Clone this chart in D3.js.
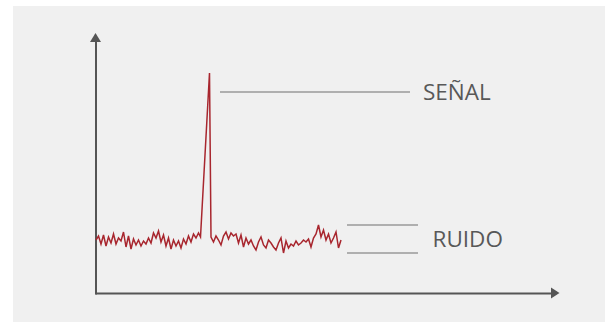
<!DOCTYPE html>
<html>
<head>
<meta charset="utf-8">
<script src="https://cdn.jsdelivr.net/npm/d3@7"></script>
<style>
  html, body { margin: 0; padding: 0; background: #ffffff; }
  svg { display: block; }
</style>
</head>
<body>
<svg id="chart" width="605" height="322"></svg>
<script>
// ---- data ----
const sampleStep = 2.5;
const noiseBeforeStart = 0;
const noiseBefore = [53, 57, 49, 58, 47, 56, 50, 59, 49, 55, 52, 61, 46, 57, 44, 54, 48, 53, 47, 52,
                     49, 55, 50, 60, 55, 62, 51, 58, 47, 55, 44, 53, 47, 52, 45, 54, 49, 57, 51, 59,
                     55, 60];
const spikeTimes = [104.5, 113.5];
const spikeValues = [56, 220];
const noiseAfterStart = 115;
const noiseAfter = [56, 51, 57, 53, 48, 57, 61, 54, 60, 57, 59, 50, 58, 46, 55, 49, 53, 47, 43, 51,
                    56, 48, 45, 53, 50, 46, 43, 50, 55, 40, 52, 45, 49, 47, 52, 48, 50, 53, 51, 54,
                    46, 55, 59, 68, 56, 63, 53, 59, 50, 55, 61, 45, 53];
const labels = ["SEÑAL", "RUIDO"];
const signalLineLevel = 201;
const signalLineSpan = [124, 314];
const noiseLineSpan = [251, 322];
const labelTimes = [327, 336.5];

// ---- build series ----
const series = [];
noiseBefore.forEach((v, i) => series.push({ t: noiseBeforeStart + i * sampleStep, v }));
spikeTimes.forEach((t, i) => series.push({ t, v: spikeValues[i] }));
noiseAfter.forEach((v, i) => series.push({ t: noiseAfterStart + i * sampleStep, v }));

const svg = d3.select("#chart");
svg.append("rect").attr("x", 13).attr("y", 6).attr("width", 592).attr("height", 316).attr("fill", "#f0f0f0");

const x = d3.scaleLinear().domain([0, 455]).range([96, 551]);
const y = d3.scaleLinear().domain([0, 251]).range([293, 42]);

const axisColor = "#555555";

// axes
const gx = svg.append("g").attr("transform", `translate(0,${y(0)})`)
  .call(d3.axisBottom(x).tickValues([]).tickSizeOuter(0));
const gy = svg.append("g").attr("transform", `translate(${x(0) - 0.5},0)`)
  .call(d3.axisLeft(y).tickValues([]).tickSizeOuter(0));
[gx, gy].forEach(g => g.select(".domain")
  .attr("stroke", axisColor).attr("stroke-width", 2).attr("stroke-linecap", "square"));

// arrowheads
const xEnd = x.range()[1], yEnd = y.range()[1];
svg.append("path")
  .attr("d", `M${xEnd},${y(0) - 5.5}L${xEnd + 8.5},${y(0)}L${xEnd},${y(0) + 5.5}Z`)
  .attr("fill", axisColor);
const ax = x(0) - 0.5;
svg.append("path")
  .attr("d", `M${ax - 5.5},${yEnd}L${ax},${yEnd - 9}L${ax + 5.5},${yEnd}Z`)
  .attr("fill", axisColor);

// signal line
const line = d3.line().x(d => x(d.t)).y(d => y(d.v));
svg.append("path").datum(series)
  .attr("d", line)
  .attr("fill", "none")
  .attr("stroke", "#a8262e")
  .attr("stroke-width", 1.5)
  .attr("stroke-linejoin", "miter");

// annotation lines
const annColor = "#9a9a9a";
svg.append("line")
  .attr("x1", x(signalLineSpan[0])).attr("x2", x(signalLineSpan[1]))
  .attr("y1", y(signalLineLevel)).attr("y2", y(signalLineLevel))
  .attr("stroke", annColor).attr("stroke-width", 1.3);
const allNoise = noiseBefore.concat(noiseAfter);
[d3.max(allNoise), d3.min(allNoise)].forEach(lv => {
  svg.append("line")
    .attr("x1", x(noiseLineSpan[0])).attr("x2", x(noiseLineSpan[1]))
    .attr("y1", y(lv)).attr("y2", y(lv))
    .attr("stroke", annColor).attr("stroke-width", 1.3);
});

// labels
svg.append("text").text(labels[0])
  .attr("x", x(labelTimes[0])).attr("y", y(signalLineLevel) + 7.5)
  .attr("font-family", "'Open Sans', sans-serif").attr("font-size", 22.5)
  .attr("fill", "#585858");
svg.append("text").text(labels[1])
  .attr("x", x(labelTimes[1])).attr("y", y((d3.max(allNoise) + d3.min(allNoise)) / 2) + 8)
  .attr("font-family", "'Open Sans', sans-serif").attr("font-size", 22.5)
  .attr("fill", "#585858");
</script>
</body>
</html>
